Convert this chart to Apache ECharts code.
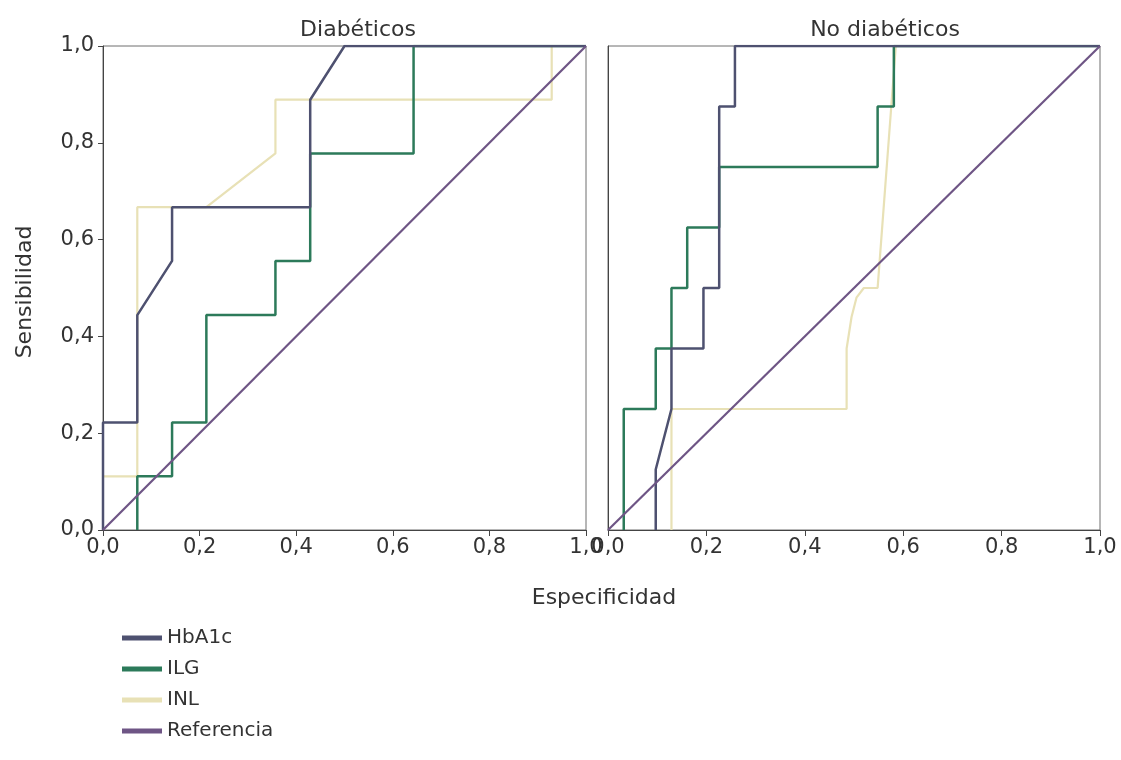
<!DOCTYPE html>
<html>
<head>
<meta charset="utf-8">
<script src="https://cdn.jsdelivr.net/npm/echarts@6/dist/echarts.min.js"></script>
<style>
  html, body { margin: 0; padding: 0; background: #fff; }
  #chart { width: 1121px; height: 760px; }
</style>
</head>
<body>
<div id="chart"></div>
<script>
// ---- Data (x = especificidad axis value as plotted, y = sensibilidad) ----
const panelTitles = ['Diabéticos', 'No diabéticos'];
const seriesNames = ['HbA1c', 'ILG', 'INL', 'Referencia'];
const tickValues = [0, 0.2, 0.4, 0.6, 0.8, 1.0];

// Diabéticos
const diabHbA1c = [[0,0],[0,0.222],[0.071,0.222],[0.071,0.444],[0.143,0.556],[0.143,0.667],[0.429,0.667],[0.429,0.889],[0.5,1],[1,1]];
const diabILG = [[0.071,0],[0.071,0.111],[0.143,0.111],[0.143,0.222],[0.214,0.222],[0.214,0.444],[0.357,0.444],[0.357,0.556],[0.429,0.556],[0.429,0.778],[0.643,0.778],[0.643,1],[1,1]];
const diabINL = [[0,0.111],[0.071,0.111],[0.071,0.667],[0.214,0.667],[0.357,0.778],[0.357,0.889],[0.929,0.889],[0.929,1],[1,1]];
const diabRef = [[0,0],[1,1]];

// No diabéticos
const noDiabHbA1c = [[0.097,0],[0.097,0.125],[0.129,0.25],[0.129,0.375],[0.194,0.375],[0.194,0.5],[0.226,0.5],[0.226,0.875],[0.258,0.875],[0.258,1],[1,1]];
const noDiabILG = [[0.032,0],[0.032,0.25],[0.097,0.25],[0.097,0.375],[0.129,0.375],[0.129,0.5],[0.161,0.5],[0.161,0.625],[0.226,0.625],[0.226,0.75],[0.548,0.75],[0.548,0.875],[0.581,0.875],[0.581,1],[1,1]];
const noDiabINL = [[0.129,0],[0.129,0.25],[0.485,0.25],[0.485,0.375],[0.495,0.44],[0.505,0.48],[0.52,0.5],[0.548,0.5],[0.585,1],[1,1]];
const noDiabRef = [[0,0],[1,1]];

const colors = {
  'HbA1c': '#4e5170',
  'ILG': '#2c7a5a',
  'INL': '#e8e1b6',
  'Referencia': '#6e5585'
};
const widths = { 'HbA1c': 2.5, 'ILG': 2.5, 'INL': 2.2, 'Referencia': 2.2 };

const panelData = [
  { 'HbA1c': diabHbA1c, 'ILG': diabILG, 'INL': diabINL, 'Referencia': diabRef },
  { 'HbA1c': noDiabHbA1c, 'ILG': noDiabILG, 'INL': noDiabINL, 'Referencia': noDiabRef }
];

const FONT = 'DejaVu Sans';
const fmt = v => v.toFixed(1).replace('.', ',');

const grids = [
  { left: 103, top: 46, width: 483, height: 484 },
  { left: 608, top: 46, width: 492, height: 484 }
].map(g => Object.assign(g, { show: true, borderColor: '#6e6e6e', borderWidth: 1, backgroundColor: 'transparent' }));

const xAxes = [0, 1].map(i => ({
  type: 'value', gridIndex: i, min: 0, max: 1, interval: 0.2,
  axisLine: { show: true, onZero: false, lineStyle: { color: '#444', width: 1 } },
  axisTick: { show: true, length: 6, inside: false, lineStyle: { color: '#444' } },
  splitLine: { show: false },
  axisLabel: { formatter: fmt, fontFamily: FONT, fontSize: 21, color: '#333', margin: 7, showMinLabel: true, showMaxLabel: true }
}));

const yAxes = [0, 1].map(i => ({
  type: 'value', gridIndex: i, min: 0, max: 1, interval: 0.2,
  axisLine: { show: true, onZero: false, lineStyle: { color: '#444', width: 1 } },
  axisTick: { show: i === 0, length: 5, lineStyle: { color: '#444' } },
  splitLine: { show: false },
  axisLabel: { show: i === 0, formatter: fmt, fontFamily: FONT, fontSize: 21, color: '#333', margin: 9 }
}));

const drawOrder = ['INL', 'ILG', 'HbA1c', 'Referencia'];
const series = [];
[0, 1].forEach(p => {
  drawOrder.forEach((name, k) => {
    series.push({
      name: name, type: 'line', xAxisIndex: p, yAxisIndex: p,
      data: panelData[p][name], showSymbol: false, symbol: 'none',
      lineStyle: { color: colors[name], width: widths[name] },
      itemStyle: { color: colors[name] },
      z: 2 + k, animation: false
    });
  });
});

const option = {
  backgroundColor: '#fff',
  animation: false,
  title: [
    { text: panelTitles[0], left: 353, top: 14, textAlign: 'center', textStyle: { fontFamily: FONT, fontSize: 22, fontWeight: 'normal', color: '#333' } },
    { text: panelTitles[1], left: 880, top: 14, textAlign: 'center', textStyle: { fontFamily: FONT, fontSize: 22, fontWeight: 'normal', color: '#333' } }
  ],
  grid: grids,
  xAxis: xAxes,
  yAxis: yAxes,
  legend: {
    orient: 'vertical', left: 117, top: 622,
    data: seriesNames.map(n => ({ name: n, icon: 'rect' })),
    itemWidth: 40, itemHeight: 5, itemGap: 9,
    textStyle: { fontFamily: FONT, fontSize: 20, color: '#333', lineHeight: 22 },
    selectedMode: false
  },
  graphic: [
    { type: 'text', x: 25, y: 292, rotation: Math.PI / 2,
      style: { text: 'Sensibilidad', fontFamily: FONT, fontSize: 22, fill: '#333', textAlign: 'center', textVerticalAlign: 'middle' } },
    { type: 'text', x: 604, y: 598,
      style: { text: 'Especificidad', fontFamily: FONT, fontSize: 22, fill: '#333', textAlign: 'center', textVerticalAlign: 'middle' } }
  ],
  series: series
};

const chart = echarts.init(document.getElementById('chart'), null, { renderer: 'canvas' });
chart.setOption(option);
</script>
</body>
</html>
